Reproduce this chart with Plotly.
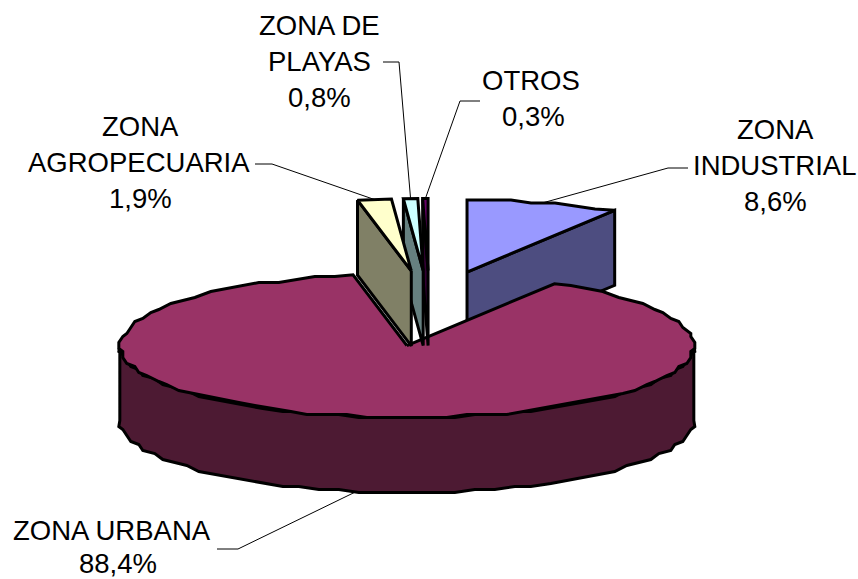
import math
import plotly.graph_objects as go

# ---- data ----
categories = ["ZONA INDUSTRIAL", "ZONA URBANA", "ZONA AGROPECUARIA", "ZONA DE PLAYAS", "OTROS"]
percent_values = [8.6, 88.4, 1.9, 0.8, 0.3]
percent_labels = ["8,6%", "88,4%", "1,9%", "0,8%", "0,3%"]
label_lines = [["ZONA", "INDUSTRIAL"], ["ZONA URBANA"], ["ZONA", "AGROPECUARIA"], ["ZONA DE", "PLAYAS"], ["OTROS"]]
top_colors = ["#9999FF", "#993366", "#FFFFCC", "#CCFFFF", "#660066"]
side_colors = ["#4D4D80", "#4D1A33", "#808066", "#668080", "#330033"]

# ---- projection of the exploded 3-D pie (pixels) ----
W, H = 858, 579
CX, CY = 429.4, 310
RX, RY, DEPTH = 287, 72, 75
EXPLODE = [141, 129, 141, 141, 141]
EXPLODE_TILT = 0.2796
LINE_GAP = [36, 33, 36, 36, 36]
LABEL_X = [[775, 775, 775], [112, 118], [140, 139, 140], [319, 319, 319], [531, 533]]
LABEL_TOP_Y = [129, 530, 126, 25, 80]
LEADER_ELBOWS = [[(688, 168), (668, 168)], [(217, 549), (238, 549)], [(255, 164), (272, 164)],
                 [(383, 62), (399, 62)], [(480, 101), (460, 101)]]
# drawing order: back to front
DRAW_ORDER = [0, 1, 4, 3, 2]
FONT = "Liberation Sans, Arial, sans-serif"


def rim(theta, ax, ay, drop=0.0, snap=True):
    t = math.radians(theta)
    dx, dy = RX * math.sin(t), RY * math.cos(t)
    if snap:
        dx = round(dx / 4) * 4
        dy = round(dy / 3) * 3
    return ax + dx, ay - dy + drop


def arc(t0, t1, ax, ay, drop=0.0):
    n = max(1, int(abs(t1 - t0) / 4))
    pts = [rim(t0, ax, ay, drop, False)]
    for i in range(1, n):
        pts.append(rim(t0 + (t1 - t0) * i / n, ax, ay, drop))
    pts.append(rim(t1, ax, ay, drop, False))
    return pts


slices = []
start = 0.0
total = sum(percent_values)
for i, v in enumerate(percent_values):
    sweep = 360.0 * v / total
    mid = math.radians(start + sweep / 2)
    ax = CX + EXPLODE[i] * math.sin(mid)
    ay = CY - EXPLODE[i] * EXPLODE_TILT * math.cos(mid)
    slices.append((i, start, start + sweep, ax, ay))
    start += sweep

fig = go.Figure()


def poly(pts, fill, name):
    xs = [p[0] for p in pts] + [pts[0][0]]
    ys = [p[1] for p in pts] + [pts[0][1]]
    fig.add_trace(go.Scatter(x=xs, y=ys, mode="lines", fill="toself", fillcolor=fill,
                             line=dict(color="#000000", width=3), name=name,
                             hoverinfo="name", showlegend=False))


for i in DRAW_ORDER:
    _, a, b, ax, ay = slices[i]
    name = categories[i]
    # visible radial cut faces
    if math.sin(math.radians(a)) < -1e-6:
        p = rim(a, ax, ay, 0, False)
        poly([(ax, ay), p, (p[0], p[1] + DEPTH), (ax, ay + DEPTH)], side_colors[i], name)
    if math.sin(math.radians(b)) > 1e-6:
        p = rim(b, ax, ay, 0, False)
        poly([(ax, ay), p, (p[0], p[1] + DEPTH), (ax, ay + DEPTH)], side_colors[i], name)
    # outer wall (front half only)
    w0, w1 = max(a, 90), min(b, 270)
    if w1 > w0:
        poly(arc(w0, w1, ax, ay) + arc(w1, w0, ax, ay, DEPTH), side_colors[i], name)
    # top face
    poly([(ax, ay)] + arc(a, b, ax, ay), top_colors[i], name)

# leader lines and labels
for i, (_, a, b, ax, ay) in enumerate(slices):
    m = (a + b) / 2
    drop = DEPTH if 90 < m < 270 else 0
    end = rim(m, ax, ay, drop, False)
    pts = LEADER_ELBOWS[i] + [end]
    fig.add_trace(go.Scatter(x=[p[0] for p in pts], y=[p[1] for p in pts], mode="lines",
                             line=dict(color="#000000", width=1), hoverinfo="skip", showlegend=False))
    for j, line in enumerate(label_lines[i] + [percent_labels[i]]):
        fig.add_annotation(x=LABEL_X[i][j], y=LABEL_TOP_Y[i] + j * LINE_GAP[i], xref="x", yref="y",
                           text=line, showarrow=False, align="center",
                           xanchor="center", yanchor="middle",
                           font=dict(family=FONT, size=27.5, color="#000000"))

fig.update_layout(width=W, height=H, margin=dict(l=0, r=0, t=0, b=0),
                  paper_bgcolor="#FFFFFF", plot_bgcolor="#FFFFFF", showlegend=False,
                  xaxis=dict(range=[0, W], visible=False, fixedrange=True),
                  yaxis=dict(range=[H, 0], visible=False, fixedrange=True))
fig.write_html("out.html", config={"displayModeBar": False},
               post_script="document.body.style.margin='0';document.documentElement.style.overflow='hidden';")
